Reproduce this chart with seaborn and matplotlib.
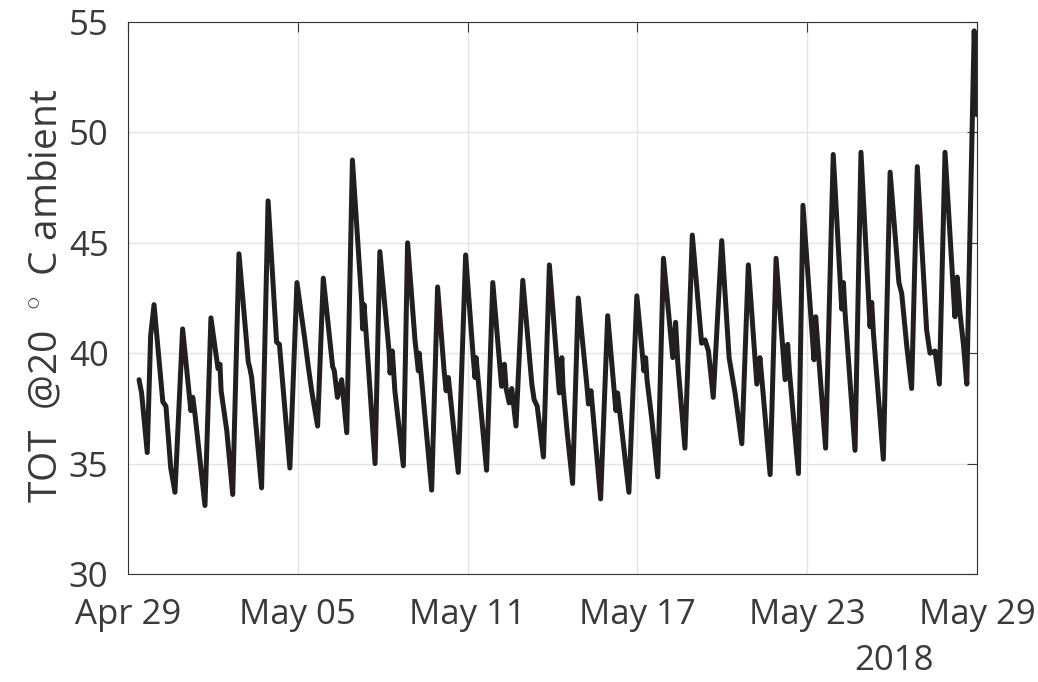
import numpy as np
import pandas as pd
import matplotlib
matplotlib.use("Agg")
import matplotlib.pyplot as plt
import seaborn as sns

# ---- data ----
day_offsets = [
    0.39, 0.48, 0.68, 0.80, 0.92, 1.23, 1.34, 1.51, 1.66, 1.93,
    2.22, 2.29, 2.37, 2.72, 2.93, 3.18, 3.25, 3.29, 3.49, 3.70,
    3.92, 4.25, 4.31, 4.37, 4.72, 4.95, 5.25, 5.35, 5.72, 5.97,
    6.25, 6.37, 6.49, 6.70, 6.90, 7.23, 7.29, 7.40, 7.55, 7.73,
    7.93, 8.26, 8.29, 8.34, 8.43, 8.73, 8.90, 9.23, 9.26, 9.34,
    9.43, 9.73, 9.88, 10.14, 10.26, 10.29, 10.73, 10.94, 11.17, 11.24,
    11.32, 11.67, 11.93, 12.20, 12.26, 12.30, 12.67, 12.89, 13.20, 13.30,
    13.36, 13.47, 13.56, 13.71, 13.95, 14.27, 14.35, 14.46, 14.68, 14.89,
    15.24, 15.33, 15.37, 15.52, 15.71, 15.91, 16.21, 16.27, 16.36, 16.70,
    16.95, 17.24, 17.30, 17.70, 17.98, 18.23, 18.29, 18.34, 18.51, 18.72,
    18.92, 19.25, 19.35, 19.43, 19.68, 19.94, 20.27, 20.39, 20.51, 20.68,
    20.98, 21.24, 21.45, 21.69, 21.92, 22.22, 22.33, 22.40, 22.69, 22.90,
    23.22, 23.31, 23.37, 23.69, 23.85, 24.24, 24.30, 24.42, 24.65, 24.92,
    25.22, 25.28, 25.34, 25.69, 25.90, 26.22, 26.28, 26.34, 26.69, 26.93,
    27.24, 27.34, 27.52, 27.69, 27.89, 28.22, 28.34, 28.52, 28.67, 28.87,
    29.22, 29.30, 29.40, 29.52, 29.64, 29.90, 30.00,
]
tot_values = [
    38.8, 38.2, 35.5, 40.8, 42.2, 37.8, 37.6, 34.8, 33.7, 41.1,
    37.4, 38.0, 37.2, 33.1, 41.6, 39.3, 39.5, 38.3, 36.5, 33.6,
    44.5, 39.6, 39.3, 38.9, 33.9, 46.9, 40.5, 40.4, 34.8, 43.2,
    40.6, 39.4, 38.3, 36.7, 43.4, 39.4, 39.2, 38.0, 38.8, 36.4,
    48.75, 42.3, 41.1, 42.2, 40.6, 35.0, 44.6, 40.0, 39.1, 40.1,
    38.3, 34.9, 45.0, 40.6, 39.2, 40.0, 33.8, 43.0, 39.2, 38.3,
    38.9, 34.6, 44.45, 39.8, 38.9, 39.8, 34.7, 43.2, 38.5, 39.5,
    38.4, 37.75, 38.4, 36.7, 43.3, 38.6, 37.9, 37.6, 35.3, 44.0,
    38.2, 39.8, 38.5, 36.4, 34.1, 42.5, 38.6, 37.7, 38.3, 33.4,
    41.7, 37.4, 38.2, 33.7, 42.6, 39.2, 39.8, 38.8, 37.0, 34.4,
    44.3, 39.8, 41.4, 39.5, 35.7, 45.35, 40.45, 40.6, 40.1, 38.0,
    45.1, 39.8, 38.2, 35.9, 44.0, 38.6, 39.8, 38.8, 34.5, 44.3,
    38.8, 40.4, 39.2, 34.55, 46.7, 39.7, 41.65, 39.6, 35.7, 49.0,
    42.0, 43.2, 41.8, 35.6, 49.1, 41.2, 42.3, 40.9, 35.2, 48.2,
    43.2, 42.7, 40.3, 38.4, 48.45, 41.05, 40.0, 40.1, 38.6, 49.1,
    41.65, 43.45, 41.8, 40.4, 38.6, 54.6, 50.8,
]
y_ticks = [30, 35, 40, 45, 50, 55]
x_tick_days = [0, 6, 12, 18, 24, 30]
x_tick_labels = ["Apr 29", "May 05", "May 11", "May 17", "May 23", "May 29"]
year_label = "2018"
y_label = r"TOT  @20  $^{\circ}$  C ambient"

# ---- style ----
sns.set_theme(style="white")
plt.rcParams["font.family"] = ["Open Sans", "DejaVu Sans"]
plt.rcParams["mathtext.fontset"] = "custom"
plt.rcParams["mathtext.rm"] = "Open Sans"
plt.rcParams["mathtext.it"] = "Open Sans"
plt.rcParams["mathtext.bf"] = "Open Sans"

text_color = "#3a3a3a"
start = pd.Timestamp("2018-04-29")
df = pd.DataFrame({
    "time": start + pd.to_timedelta(day_offsets, unit="D"),
    "tot": tot_values,
})

fig = plt.figure(figsize=(10.38, 6.82), dpi=100)
ax = fig.add_axes([128 / 1038, 1 - 574 / 682, 849 / 1038, 552 / 682])

sns.lineplot(data=df, x="time", y="tot", ax=ax, color="#231f20",
             linewidth=3.6, sort=False)
for ln in ax.get_lines():
    ln.set_solid_joinstyle("round")
    ln.set_solid_capstyle("round")

ax.set_xlim(start, start + pd.Timedelta(days=30))
ax.set_ylim(30, 55)
ax.set_yticks(y_ticks)
ax.set_xticks([start + pd.Timedelta(days=d) for d in x_tick_days])
ax.set_xticklabels(x_tick_labels)
ax.set_xlabel("")
ax.set_ylabel("")

ax.grid(True, color="#e4e4e4", linewidth=1.0)
ax.set_axisbelow(True)
ax.tick_params(axis="both", direction="in", length=7, width=0.8,
               top=True, right=True, labelsize=25, colors=text_color)
ax.tick_params(axis="y", pad=14)
ax.tick_params(axis="x", pad=17)
for sp in ax.spines.values():
    sp.set_color("#333333")
    sp.set_linewidth(0.8)

fig.text(47 / 1038, 1 - 296 / 682, y_label, rotation=90, ha="center",
         va="center", fontsize=28, color=text_color)
fig.text(894 / 1038, 1 - 661 / 682, year_label, ha="center", va="center",
         fontsize=25, color=text_color)

fig.savefig("out.png", dpi=100)
